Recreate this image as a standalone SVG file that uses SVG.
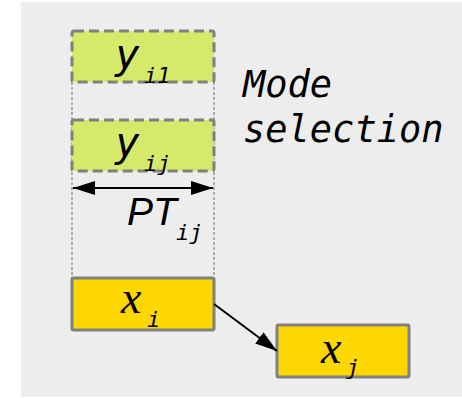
<svg xmlns="http://www.w3.org/2000/svg" width="462" height="398" viewBox="0 0 462 398">
  <defs>
    <marker id="head" viewBox="0 0 22 14" refX="22" refY="7" markerWidth="22" markerHeight="14" markerUnits="userSpaceOnUse" orient="auto-start-reverse">
      <path d="M0,0 L22,7 L0,14 Z" fill="#000"/>
    </marker>
    <style>
      .mode { fill: #d5e96b; stroke: #808080; stroke-width: 3; stroke-dasharray: 10 5; }
      .task { fill: #ffd700; stroke: #808080; stroke-width: 3; }
      .guide { stroke: #808080; stroke-width: 1.2; stroke-dasharray: 3 2; fill: none; }
      .link { stroke: #000; stroke-width: 2; fill: none; }
      .mono { font-family: "DejaVu Sans Mono", "Liberation Mono", monospace; font-style: italic; fill: #000; }
      .var { font-family: "Liberation Serif", "DejaVu Serif", serif; font-style: italic; fill: #000; font-size: 46px; }
      .big { font-size: 37px; }
      .ylab { font-size: 41px; }
      .sub { font-size: 22px; }
      .pt { font-family: "Liberation Sans", Arial, sans-serif; font-style: italic; font-size: 39px; fill: #000; }
    </style>
  </defs>

  <!-- backdrop -->
  <rect x="21" y="2" width="441" height="395" fill="#ededed"/>

  <!-- guides bounding the processing time -->
  <g id="guides">
    <line class="guide" x1="72" y1="82" x2="72" y2="278"/>
    <line class="guide" x1="214" y1="82" x2="214" y2="278"/>
  </g>

  <g id="mode-y-i1">
    <rect class="mode" x="72" y="31" width="142" height="51" rx="2"/>
    <text class="mono ylab" x="115" y="68">y</text>
    <text class="mono sub" x="144" y="83">i1</text>
  </g>

  <g id="mode-y-ij">
    <rect class="mode" x="72" y="120" width="142" height="51" rx="2"/>
    <text class="mono ylab" x="115" y="156">y</text>
    <text class="mono sub" x="144" y="171">ij</text>
  </g>

  <g id="mode-label">
    <text class="mono big" x="243" y="97">Mode</text>
    <text class="mono big" x="243" y="142">selection</text>
  </g>

  <g id="pt-label">
    <text class="pt" x="127" y="225">PT</text>
    <text class="mono sub" x="176" y="240">ij</text>
  </g>

  <g id="task-x-i">
    <rect class="task" x="72" y="278" width="142" height="52" rx="1.5"/>
    <text class="var" x="121" y="313">x</text>
    <text class="mono sub" x="147" y="327">i</text>
  </g>

  <g id="task-x-j">
    <rect class="task" x="277" y="325" width="132" height="52" rx="1.5"/>
    <text class="var" x="321" y="363">x</text>
    <text class="mono sub" x="346" y="375">j</text>
  </g>

  <g id="connectors">
    <line class="link" x1="73" y1="188" x2="213" y2="188" marker-start="url(#head)" marker-end="url(#head)"/>
    <line class="link" x1="214" y1="304" x2="277" y2="351" marker-end="url(#head)"/>
  </g>
</svg>
